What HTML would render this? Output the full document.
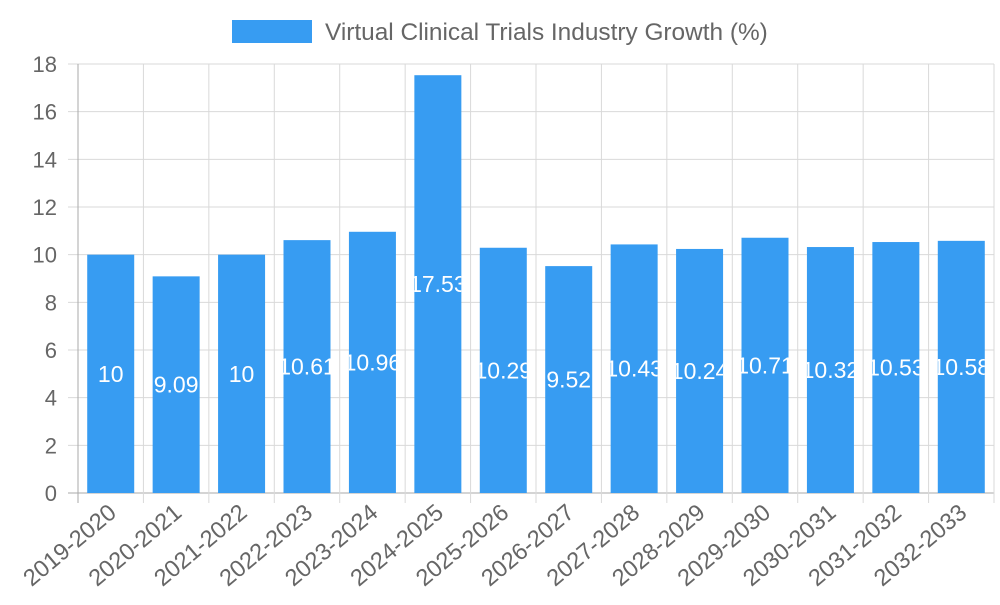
<!DOCTYPE html>
<html><head><meta charset="utf-8"><style>
body{margin:0;background:#fff;font-family:"Liberation Sans",sans-serif}
</style></head><body>
<svg id="c" width="1000" height="600"></svg>
<script>
const categories=["2019-2020","2020-2021","2021-2022","2022-2023","2023-2024","2024-2025","2025-2026","2026-2027","2027-2028","2028-2029","2029-2030","2030-2031","2031-2032","2032-2033"];
const values=[10,9.09,10,10.61,10.96,17.53,10.29,9.52,10.43,10.24,10.71,10.32,10.53,10.58];
const yTicks=[0,2,4,6,8,10,12,14,16,18];
const NS="http://www.w3.org/2000/svg";
const svg=document.getElementById('c');
const L=78,R=994,T=64,B=493,yMax=18;
const y=v=>B-(v/yMax)*(B-T);
const band=(R-L)/categories.length;
const x=i=>L+band*i;
function mk(t,a,p){const e=document.createElementNS(NS,t);for(const k in a)e.setAttribute(k,a[k]);(p||svg).appendChild(e);return e;}
const defs=mk('defs',{});
yTicks.forEach(t=>{
 const g=mk('line',{x1:L-10,x2:R,y1:y(t),y2:y(t),stroke:t===0?'#aaa':'#d9d9d9','stroke-width':1});
 
 
 const tx=mk('text',{x:L-21,y:y(t)+8,'text-anchor':'end','font-size':22,fill:'#666'});
 tx.textContent=t;
 
 
});
for(let i=0;i<=categories.length;i++){
 const g=mk('line',{x1:x(i),x2:x(i),y1:T,y2:B+10,stroke:i===0?'#aaa':'#d9d9d9','stroke-width':1});
 
 
}
const bw=47;
categories.forEach((c,i)=>{
 const cx=x(i)+band/2, v=values[i];
 const cp=mk('clipPath',{id:'cp'+i},defs);
 mk('rect',{x:cx-bw/2,y:y(v),width:bw,height:B-y(v)},cp);
 const r=mk('rect',{x:cx-bw/2,y:y(v),width:bw,height:B-y(v),fill:'#379cf2'});
 
 
 const lb=mk('text',{x:cx,y:y(v/2)+8,'text-anchor':'middle','font-size':23,fill:'#fff','clip-path':'url(#cp'+i+')'});
 lb.textContent=v;
 
 
 const xl=mk('text',{x:0,y:0,'text-anchor':'end','font-size':23.5,fill:'#666',transform:`translate(${cx+7},${B+22}) rotate(-40)`});
 xl.textContent=c;
 
 
});
const lg=mk('rect',{x:232,y:20,width:80,height:23,fill:'#379cf2'});


const lt=mk('text',{x:325,y:40,'font-size':24.4,fill:'#666'});
lt.textContent='Virtual Clinical Trials Industry Growth (%)';


</script>
</body></html>
